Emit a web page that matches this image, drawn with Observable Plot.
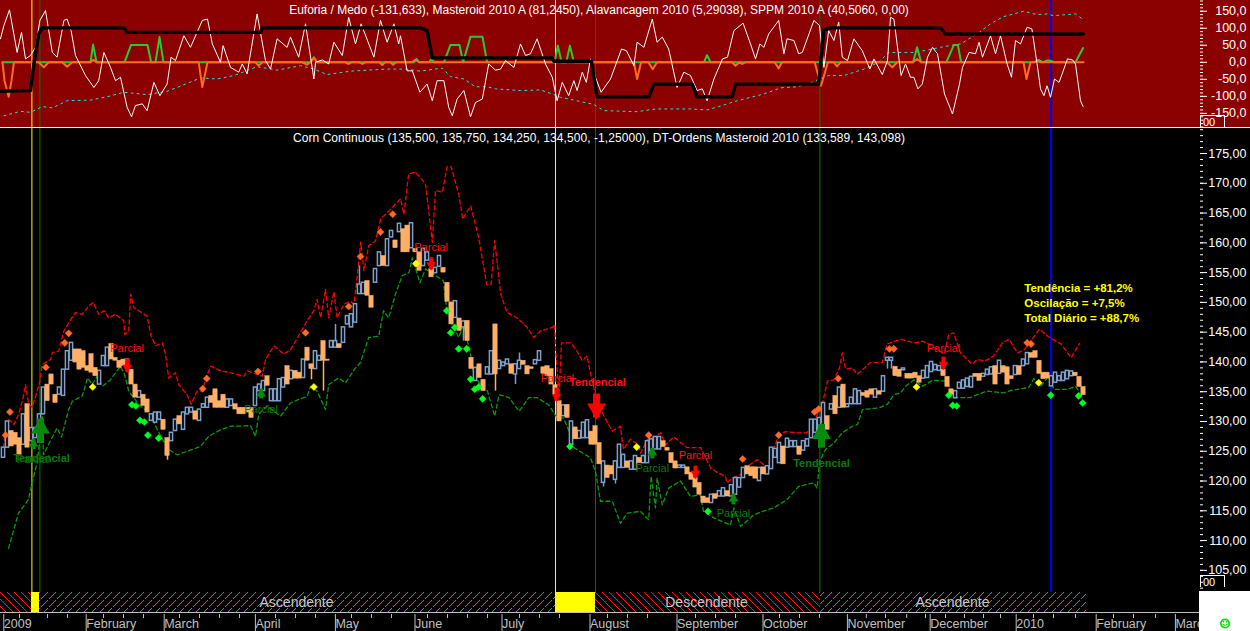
<!DOCTYPE html>
<html><head><meta charset="utf-8">
<script src="https://cdn.jsdelivr.net/npm/d3@7"></script>
<script src="https://cdn.jsdelivr.net/npm/@observablehq/plot@0.6"></script>
<style>
html,body{margin:0;padding:0;background:#000;overflow:hidden}
#chart{position:relative;width:1250px;height:631px;overflow:hidden;background:#000;font-family:"Liberation Sans",Arial,sans-serif}
.pane{position:absolute;left:0;width:1250px}
.pane svg{display:block;overflow:hidden}
.title{position:absolute;left:0;width:1198px;text-align:center;color:#fff;font-size:12px;line-height:14px;white-space:nowrap}
.boxlbl{position:absolute;left:1200px;width:25px;border:1px solid #fff;border-bottom:none;color:#fff;font-size:11px;line-height:12px;padding-left:2px;box-sizing:border-box}
</style></head><body>
<svg width="0" height="0" style="position:absolute"><defs>
<pattern id="hatchUp" patternUnits="userSpaceOnUse" width="8" height="8"><path d="M-1,9 L9,-1" stroke="#00c800" stroke-width="1" shape-rendering="crispEdges" stroke-dasharray="2,1"/></pattern>
<pattern id="hatchDown" patternUnits="userSpaceOnUse" width="7" height="7"><path d="M-1,-1 L8,8" stroke="#ff1010" stroke-width="1.3" shape-rendering="crispEdges"/></pattern>
</defs></svg>
<div id="chart">
 <div class="pane" id="top" style="top:0;height:127px;background:#8b0000"></div>
 <div class="pane" style="top:127px;height:1px;background:#fff"></div>
 <div class="pane" id="main" style="top:128px;height:464px"></div>
 <div class="pane" id="strip" style="top:592px;height:20px"></div>
 <div class="pane" id="axis" style="top:612px;height:19px;border-top:1px solid #c0c0c0;box-sizing:border-box"></div>
 <div class="title" style="top:3px">Euforia / Medo (-131,633), Masteroid 2010 A (81,2450), Alavancagem 2010 (5,29038), SPPM 2010 A (40,5060, 0,00)</div>
 <div class="title" style="top:131px;letter-spacing:0.065px">Corn Continuous (135,500, 135,750, 134,250, 134,500, -1,25000), DT-Ordens Masteroid 2010 (133,589, 143,098)</div>
 <div class="boxlbl" style="top:115px;height:13px">00</div>
 <div class="boxlbl" style="top:575px;height:12px">00</div>
 <div style="position:absolute;left:1199px;top:591px;width:51px;height:40px;background:#fff"></div>
 <svg style="position:absolute;left:1218px;top:617px" width="14" height="14" viewBox="0 0 14 14" role="img"><circle cx="7" cy="6.5" r="4.2" fill="none" stroke="#00e000" stroke-width="1.7"/><path d="M4.6 6.8 Q7 9.6 9.4 6.8" fill="none" stroke="#00e000" stroke-width="1.1"/><rect x="4.8" y="4" width="1.4" height="1.4" fill="#00e000"/><rect x="7.9" y="4" width="1.4" height="1.4" fill="#00e000"/></svg>
</div>
<script>
const barOpen = [
123.9,125.6,128.4,128.1,127.2,126.1,132.9,126.7,127.2,127.5,
131.2,136.2,137.9,134.5,134.5,134.3,138.7,140.2,142.1,142.1,
141.8,139.3,141.3,139,136.2,139.3,139.3,143,140.7,140.2,
140.4,139.6,138.7,136.2,134,134.5,133.7,130.1,129.8,130.3,
130.3,127.2,126.7,128.4,130.9,128.6,131.2,131.5,131.7,130.1,
132.3,132.3,134.3,135.4,133.4,134.5,132.3,132.6,132.9,132.3,
132.3,132.3,132.3,132.6,135.1,135.1,137.6,133.4,133.4,133.4,
135.7,139.3,137.1,138.5,138.2,137.3,142.4,139.6,138.8,140.2,
143.5,140.4,142.4,142.4,143,143.2,146.3,145.8,146.6,151.4,
151.4,153.6,151.1,153.3,156.1,157.8,156.1,160.9,160.4,161.8,
162.3,162.9,159.1,159,158.4,156.1,157,155.6,154.9,156,
155.8,153.3,150,147.4,147.3,145.8,146.9,140.7,136.8,139.6,
137,137.9,137.9,146.3,138.8,139.3,139.6,139.6,137.9,138.8,
140.2,139.3,139.1,139.6,140.2,139.1,139.3,138.8,136.1,133.4,
130.9,132.8,126.1,129,127.1,127.2,127.2,128.3,129.2,126.4,
119.7,122.6,122.5,120.2,122.2,122.2,123.3,121.9,121.9,123.9,
123,123,125,125.3,125.3,126.7,125.6,124.7,123.3,122.2,
122.2,122.3,121.4,120.5,119.7,117.4,117.1,116.3,117.8,117.4,
117.4,118.3,117.4,117.7,118.9,120.5,122.5,122.3,122.3,120,
122.3,121.1,122,123.9,123,125.8,125.6,125.7,125.7,125.8,
125.1,125.8,127.2,128.1,128.1,129,130.9,132,134.3,132.3,
136.2,132.4,132.9,132.9,132.9,134.8,135.1,135.4,134,135.1,
135,140.2,140.2,139.2,138.7,138.6,138,138,138.2,137.6,
137.2,137.3,138.3,138.6,138.5,138.7,137.5,135.4,133.9,135.5,
135.5,135.8,135.7,138,138,137.5,137.8,137.9,139.3,138,
139.3,139.1,137.6,137.8,139.3,139.3,139.6,141.5,141.8,140.2,
138.2,138.2,135.9,136.5,136.8,136.8,137.1,137.6,138.2,137.5,135.8];
const barClose = [
125.6,130,125.8,126.1,124.4,131.2,125.6,128.9,128.9,131.2,
135.7,133.4,136.2,133.1,135.7,138.7,141.8,143.2,139.9,138.7,
139,138.5,138.2,137.6,138.5,141,142.4,140.4,140.2,139,
139.3,140.4,136.2,134,135.1,132.6,131.5,131.2,131.5,131.5,
128.6,124.2,128.1,130.3,129.5,131.5,132.3,132.3,130.3,132,
132.9,134,133.1,132.3,132.3,132.3,133.7,133.7,132,131.2,
131.2,131.5,130.6,135.7,136.2,136.8,136,135.4,135.4,137.1,
137.3,136.2,138.5,137.2,137.2,140.4,140.2,138.8,141.8,141,
140.2,140.2,143.5,143.5,142.3,145.8,147.7,148,149.7,153,
153.3,151.1,149.1,155.6,158.4,156.1,160.6,162,159.1,163.2,
158.4,158.4,163.3,158.4,155.3,159,158.4,154.2,155.8,157.8,
155,150.1,146.3,150.2,145.2,146.8,143.5,138.8,139,137.3,
135.1,139.1,141.8,137.9,140.2,139.9,140.4,138,139.6,140.2,
139.5,137.9,138.8,140.3,141.8,138,137.6,136.2,134.5,130,
132.7,130.6,130,127,128.4,129.8,130.2,126.1,126.1,122.8,
123.3,120.5,121.1,123.3,126.1,124.4,122.2,123.3,124.2,123,
124.2,126.7,127,127.4,127.4,125.7,125.1,123,122.1,122.6,
122.6,121.1,120.2,118.9,117.7,116.3,116.3,117.7,117,118.3,
118.8,117.4,119.3,120.5,120.5,122.2,121.1,120.8,120.4,122.2,
121.1,122.5,125.6,125.4,126.4,122.8,127.1,126.7,126.7,124.4,
126.7,127,130.3,130.3,130.6,133.1,128.6,132.9,131.2,135.7,
132.3,132.9,134,135.4,135.1,134.3,134,134.5,135.4,134.5,
137.6,140.7,140.7,137.6,137.5,138.9,137.2,137.2,137.3,136.5,
138.5,139.3,140,139.5,139.3,137.6,135.8,134.5,135.1,136.5,
136.9,137.2,137.5,137.5,136.8,138,138.7,139.1,136.2,140.2,
138.2,136.2,137.1,139.3,137.8,140.4,141.5,140.7,140.7,138,
137.1,137.2,137.6,138.2,137.6,138.2,138.5,138.4,137.6,135.8,134.4];
const wickBar  = [77,80,83,89,115,123,128,129,221,222,150,153,41,5];
const wickHigh = [139.6,143.5,146.3,156.1,146.8,146.3,139.6,141.5,140.7,140.7,123.3,123.3,127.2,131.2];
const wickLow  = [137,135.1,143.5,151.4,143.5,135.1,136.2,138.8,138.8,138.8,119,119.5,123.5,126.1];

const upperBar = [0,0.5,1.3,2.6,3.8,4.9,5.5,6.3,7.2,8.4,9.1,9.7,11.8,12.2,13.8,15.1,16.3,18,19.7,21.3,22.4,23.8,25.1,26.3,28,30.1,30.3,31.3,31.8,32.6,35.9,36.8,38,39.7,40.5,41.3,43,43.8,45.9,46.9,48.4,49.7,50.5,51.8,54.3,56.8,60.1,60.9,62.2,64.7,65.5,67.6,70.1,71.8,73.8,
75.9,77.6,78.4,79.3,80.5,81.3,82.6,83.4,85.1,86.8,87.6,88.4,89.3,90.1,91.3,93,94.3,96,98,99.3,100.1,101.3,103,105.5,106.3,107.2,108,109.7,110.9,111.9,113.8,114.8,116.8,118.8,120.8,121.9,122.8,124.3,125.9,128.4,130.9,132.6,134.3,137.2,137.8,138,138.9,139.5,141.8,143.4,144.7,145.9,146.8,148,
150.1,152.2,154.2,155,156.7,158.8,159.3,161,163,164.3,165.5,167.6,170.9,174.3,176.8,178.5,180.5,180.8,182.2,184.25,186,188.5,191,192.2,194,195.5,198.3,200.8,201.7,204.7,206,207.6,209,
209.7,210.5,212.2,213.4,216.75,219.7,220.9,224.25,225.9,228,229.7,231.4,235.2,236.3,237.5,239.25,242.2,243.4,245.5,247.5,249.75,251.4,253.5,255.25,259,261.5,264.4,266.9,269];
const upperPrice = [125.6,128.4,130.3,129.5,131.2,134,136.2,132.9,132.4,135.1,136.8,139.6,140.4,141.6,141.8,145.2,146.6,148.3,148,149.4,150,148,148.6,147.4,148,146.9,144.6,145.2,151.4,149.1,147.7,144.6,142.7,143.2,141.3,137.3,138.2,136.2,134.5,132.9,135.1,135.1,137.1,139.3,138.5,138.2,137.6,138.5,138.2,137.6,140.4,142.7,141.3,142.1,144.4,
146.9,148.6,150.5,147.4,152.2,147.4,151.8,147.4,149.7,150.2,149.7,154.2,160.1,155.3,159.5,160.3,164,165.1,166.5,167.4,164.8,171.6,171.9,169.9,165.4,160.1,168.8,168.5,172.8,172.8,168.2,164,166.2,160.9,153,153,160.4,151.4,148.3,147.4,145.8,144.1,145.2,145.8,146.3,142.4,134.5,143.2,143.2,141.8,140.2,141,137.9,134.5,
130.9,128.4,129.2,125.3,127,126.1,124.7,127,127.5,128.1,126.1,127.4,125.6,125.6,122.2,121.4,120.8,119.7,120.5,121.1,122.5,123.6,122.2,125,127.8,128.3,128.1,128.1,128.7,132.9,136.8,137,139,
141.5,138.8,139,137.9,139.9,139.9,143,143.8,143.5,143.2,143.5,143,141.3,144.6,144.9,141.5,139.6,140.4,140.2,141,143.2,143.8,141.5,142.1,145.5,144.1,143,140.7,143.1];

const lowerBar = [1.25,3.75,6.25,7.25,8.5,9.25,9.6,10,11,13.4,14.5,16.3,17.2,19.7,21,22.2,23.4,24.7,26.75,29.25,30.25,31.3,33.8,36.75,38.4,40,41.3,43.4,45.9,49.25,51.3,54.25,56.75,61.75,63,63.8,65.9,69.25,71.75,73.8,
75.9,76.75,78.4,80.5,81.3,83.8,85.5,88,89.25,91.3,93.8,95,96.3,98,99.7,101.4,102.2,104.1,105.5,107.2,110,110.5,111.75,113.8,115,116.75,117.6,119.7,121,122.8,123.9,126.4,128.9,131.3,133.4,136.3,138.4,140,
141.75,142.6,146.75,148,149.25,150.5,152.2,154.25,155.9,159.25,161.3,161.9,163,163.4,164.7,166.3,169.25,171.75,174.25,175,177.6,181.75,182.6,184.25,187.6,189.75,192.6,195.9,198.8,202.6,203.4,204,205.5,
207.6,209.7,212.2,213.5,214.75,219,221,222.6,224.25,225.5,227.6,229.7,232.25,235.5,238.4,241.75,243.4,245.9,250,251.75,256.3,257.6,259.25,261.3,262.6,266,268,268.9];
const lowerPrice = [108.7,114.6,116.9,120,123.3,128.4,135.1,124.4,125.8,128.9,127.4,132,133.4,134.3,137.3,136.2,137.6,135.9,137,139.3,137.9,135.1,132.9,131.2,128.7,126.7,125.3,124.4,125,125.8,127.5,128.6,129.2,129.3,127.5,131.2,132.6,130.9,133.1,133.7,
134.2,135.9,135.1,132,136.2,137.3,136.5,139,139.9,144.1,144.3,148.6,147.4,151.4,154.5,155,157.5,153.3,155.6,154.9,153.6,150.2,146.9,144.1,146.3,141.3,137.9,135.7,135.1,130.9,134.5,134,131.7,134,134,132.8,130.6,130.6,
127.8,125.6,123.9,121.6,116.6,116.6,116.6,112.9,114.6,114.9,113.5,120.8,115.5,120.5,116,118.8,120,117.4,117.7,114.9,113.8,112.6,115.5,112.4,114.3,114.9,115.5,116.9,119.1,119.7,118.8,123.3,125.3,
126.4,128.1,129.2,129.5,132,132.3,132.9,134.5,134.8,135.9,137,135.9,136.9,136.8,134,134,134.5,135.1,134.8,135.2,135.7,137.2,135.9,137.6,135.4,135.4,135.9,135.1];

const orangeDiamondBar = [1.6,0.5,10.6,15.3,16.3,49.8,50.8,63.6,75.5,86.3,89.25,94.25,97.3,161.3,184.8,193.8,202.8,203.8,208.7,221.5,222.6,255.9,256.9];
const orangeDiamondPrice = [131.6,127.7,139.1,143.2,144.8,135.5,137.2,138.4,144.9,149.3,157.7,161.8,164.8,127.7,123.7,127.7,131.6,132.1,137.2,142.2,142.2,143.2,143];
const yellowDiamondBar = [22.3,77.6,103.1,158.3,228.25,258.8];
const yellowDiamondPrice = [135.8,135.8,156.5,125.7,135.8,136.5];
const greenDiamondBar = [32.1,33.1,34.1,35.2,36.1,38.8,110.8,112.8,111.8,113.8,115.8,116.8,117.8,118.8,119.8,141.6,176.1,236.3,237.3,238.3,261.8,268.8,269.8];
const greenDiamondPrice = [132.8,132.6,130.2,129.9,127.7,127.2,148.6,145.8,144.9,142.2,142.2,137.1,135.4,135.8,133.8,125.8,114.9,134.4,132.7,132.6,134.4,134.3,133.1];

const arrowBar   = [9.25,204.5,148.25, 7.5,64.4,162.2,182.5, 30.9,106.9,138.25,173,235];
const arrowTip   = [130.4,129.5,130.6, 127,135.4,125.5,117.8, 138.3,155.5,133.4,120.5,138.8];
const arrowBase  = [126.3,125.5,134.6, 125.3,133.8,123.7,116, 140.5,157.5,135.6,122.5,140.8];
const arrowDown  = [false,false,true, false,false,false,false, true,true,true,true,true];
const arrowBig   = [true,true,true, false,false,false,false, false,false,false,false,false];

const labelText  = ["Tendencial","Tendencial","Tendencial","Parcial","Parcial","Parcial","Parcial","Parcial","Parcial","Parcial","Parcial","Parcial"];
const labelBar   = [9.5,204.5,148.5,7.5,64.4,162.2,182.5,30.9,106.9,138.5,173,235];
const labelPrice = [123.8,123,136.5,123.7,132.1,122.1,114.6,142.3,159.3,137.3,124.3,142.3];
const labelUp    = [true,true,false,true,true,true,true,false,false,false,false,false];

const noteText = ["Tendência = +81,2%","Oscilação = +7,5%","Total Diário = +88,7%"];
const notePrice = [152.4,149.9,147.4];
const noteBar = 255.2;

const markerBar = [7.1,9.1,138,148,204.1,261.9];
const markerColor = ["#ffff00","#008000","#ffff00","#e00000","#008000","#0000ff"];
const markerWidth = [1,1,1,1,1,2];

const euforiaBar = [-0.75,0.1,1.5,3.4,4.5,5.5,6.75,8,9.1,10.5,12.2,13.4,15.1,15.9,16.9,18,20.5,22.6,23.8,25.1,26.75,28,29.25,30.9,32,33,34.7,35.9,37.6,39.1,40.9,41.9,43,45.1,46.75,49.7,51,52.2,54.25,54.9,56.75,58.8,59.7,60.9,63.4,65.5,66.75,68.4,70.9,71.75,73.8,75.5,77.6,78,79.7,81.3,82.6,84.7,86.3,88,89.4,92.6,94.25,95.9,97.6,98.8,99.25,100.9,102.2,104.1,
105.9,107.2,108.4,110.1,111.3,112.2,113.4,115.1,116.75,118,119.7,121.3,123,124.25,125.5,127.6,129.25,130.5,131.75,133.4,135.5,137.2,138.4,139.7,141.3,142.6,143.4,144.7,145.7,146.75,148,149.4,151.75,154.5,155.75,157.6,158.4,160.1,162.2,163.4,164.7,166.3,168.4,170.1,171.75,173.4,174.7,175.9,177.6,179.75,181,182.6,184.9,186.75,188,189.1,190.1,191.3,193.8,195.1,195.9,197.6,198.8,199.7,202.6,204,205.1,206.3,207.6,208.8,
209.7,211,212.6,214.7,216.6,217.6,219.7,221,221.75,222.6,223.4,224.4,225.5,226.75,227.6,228.6,229.7,231,232.25,233.5,235.25,237.25,239,239.75,241.4,243,243.9,244.75,246,246.75,248,249.25,250.9,252,253,254.25,255.9,257.1,258.4,259.25,260.1,260.9,261.75,262.75,263.9,266,267.25,268,269.25,269.9];
const euforiaValue = [69,108,154,29,88,10,20,44,123,152,29,15,123,127,93,20,-39,-74,-54,29,-15,-54,-44,-132,-160,-127,-122,-142,-59,-98,-64,15,5,78,44,123,127,54,0,49,-15,-29,-5,-34,142,5,-20,69,44,74,15,113,-49,0,7,-5,59,20,132,54,113,15,123,59,113,54,78,-25,-25,-88,
-64,-113,-54,-54,-132,-157,-108,-83,-160,-118,-108,-5,-23,-20,5,-15,54,20,25,69,-5,-44,-113,-59,-98,-54,-83,-29,-59,10,-44,-88,-49,39,34,-10,59,44,127,59,74,39,-74,-29,-39,-83,-78,-113,-49,10,15,93,115,54,10,54,44,83,123,25,69,64,25,29,123,108,-15,93,64,118,
15,5,69,34,-20,10,-36,5,132,127,54,-39,-5,-44,-44,-78,-64,15,44,25,-93,-152,-64,-15,29,25,59,15,54,78,25,78,-5,-44,64,54,103,98,-5,-78,-98,-69,-103,-49,-59,10,7,-5,-113,-130];

const sppmBar = [0.1,4.25,6.75,9.7,12.2,15.9,21.75,26,30.1,35.9,40.9,43.4,49.25,53.4,57.6,63.4,68.4,74.25,77.6,80.9,86.75,90.9,95.9,100.9,104.1,109.7,111.75,115.1,118,121,123,129.25,134.25,137.2,139.25,143.4,147.6,150.1,158.4,163,171.6,175.9,178.8,183.4,190.1,194.25,198.4,202.1,204,206.3,210.1,215.1,218.75,221.3,227.6,231,234.25,239.25,243.4,246.75,250,255,258.4,260.9,262.5,268,269.75];
const sppmValue = [-157,-144,-147,-130,-134,-113,-111,-101,-88,-95,-85,-74,-46,-49,-39,-13,-23,-10,-20,-36,-26,-23,-20,-20,-26,-17,-42,-49,-72,-72,-78,-83,-81,-93,-103,-113,-124,-142,-145,-137,-137,-140,-130,-113,-93,-75,-72,-59,-49,-39,-39,-20,0,29,29,36,44,54,83,113,134,150,140,142,137,142,127];

const masteroidBar = [-0.75,6.75,7.6,8.8,9.7,30.1,30.9,64.25,64.7,104.25,105.9,107.2,137.2,137.6,147,148.4,161.4,162.6,172.2,173.4,182.2,183,203.8,205.1,206.75,234.25,235.5,270];
const masteroidValue = [-85,-83,-5,83,101,101,88,88,101,101,93,13,13,3,3,-101,-101,-64,-64,-101,-101,-64,-64,95,101,101,83,83];

const alavUpBar = [-0.25,21.75,22.4,23.25,30.25,31.9,36,36.9,38,39,40,76.75,77.6,78.4,102.6,103.25,103.9,106.4,107,107.75,110.1,111.75,114,114.9,116.75,119.75,120.9,137.75,138.6,139.5,140.7,141.6,142.6,175.1,175.9,176.75,227.4,228.4,229.4,235.7,237.6,238.6,239.4,257.75,258.8,259.9,260.75,261.75,262.75,268,268.9,269.9];
const alavUpValue = [0,0,52,0,0,51,51,0,0,74,0,0,15,0,0,10,0,0,10,0,0,51,51,0,75,75,0,0,49,0,0,49,0,0,21,0,0,44,0,0,51,51,0,0,7,0,5,5,0,0,20,42];
const alavDownBar = [-0.25,0.25,1.3,2,2.6,8.8,10.1,11.3,14.7,15.9,17.2,21.75,22.4,23.25,48.8,49.7,51,63,63.8,64.7,74.7,75.9,76.75,77.6,78.4,85.5,86.3,87,89,89.7,90.4,94,94.7,95.4,96.7,97.4,98.1,102,103,104,157.6,158.4,159.4,161.2,162.3,163.4,182.2,183,184,184.7,185.4,192.8,193.8,194.6,202.8,204.4,206.1,207.6,208.4,209.25,220.9,222.2,223.4,227.4,228.4,229.4,255,255.75,256.75,257.6,258.4,259.2,270];
const alavDownValue = [0,-54,-101,-54,0,0,-15,0,0,-13,0,0,7,0,0,-73,0,0,-10,0,0,-7,0,13,0,0,-5,0,0,-5,0,0,-8,0,0,-7,0,0,7,0,0,-49,0,0,-20,0,0,-10,0,-5,0,0,-18,0,0,-69,0,0,-12,0,0,-15,0,0,10,0,0,-49,0,0,5,0,0];

const mainTicks = [105,110,115,120,125,130,135,140,145,150,155,160,165,170,175];
const topTicks = [-150,-100,-50,0,50,100,150];
const monthBars = [-0.3,20.3,39.8,62.6,82.6,102.5,124.25,146.25,168,189.5,210.6,231.3,252.8,272.8,292.6];
const monthNames = ["2009","February","March","April","May","June","July","August","September","October","November","December","2010","February","March"];
const weekBars = [4,11,16,25,30,35,44,49,54,59,68,73,78,87,92,97,106,111,116,121,129,134,139,151,156,161,173,178,183,194,199,204,215.7,220.5,225.8,230.5,235.5,240.25,245,249.25,257.5,262.5,268,277.5,282.5,288];
const segFrom = [-0.75,7,9,138,148,204.25];
const segTo = [7,9,138,148,204.25,270.75];
const segFill = ["url(#hatchDown)","#ffff00","url(#hatchUp)","#ffff00","url(#hatchDown)","url(#hatchUp)"];
const trendText = ["Ascendente","Descendente","Ascendente"];
const trendBar = [73.25,175.75,237.25];

const xDomain = [-0.75,299];
const plotStyle = {background:"transparent",color:"#fff",fontFamily:"'Liberation Sans',Arial,sans-serif",fontSize:"12px",overflow:"hidden"};
const pairs = (xs,ys)=>xs.map((x,i)=>({x,y:ys[i]}));
const comma = (n)=>(d)=>d3.format("."+n+"f")(d).replace(".",",").replace("\u2212","-");
const markers = markerBar.map((x,i)=>({x,c:markerColor[i],w:markerWidth[i]}));
const markerMarks = ()=>markers.map(m=>Plot.ruleX([m.x],{stroke:m.c,strokeWidth:m.w}));

/* ---- top oscillator pane ---- */
document.getElementById("top").append(Plot.plot({
  width:1250,height:127,marginTop:0,marginBottom:0,marginLeft:0,marginRight:51,style:plotStyle,
  x:{domain:xDomain,axis:null,label:null},y:{domain:[-191.5,181.5],axis:null,label:null},
  marks:[
    ...markerMarks(),
    Plot.line(pairs(sppmBar,sppmValue),{x:"x",y:"y",stroke:"#19e6e6",strokeWidth:1,strokeDasharray:"2,4"}),
    Plot.line(pairs(alavUpBar,alavUpValue),{x:"x",y:"y",stroke:"#2ec82e",strokeWidth:2}),
    Plot.line(pairs(alavDownBar,alavDownValue),{x:"x",y:"y",stroke:"#ff6a20",strokeWidth:2}),
    Plot.line(pairs(euforiaBar,euforiaValue),{x:"x",y:"y",stroke:"#fff",strokeWidth:1}),
    Plot.line(pairs(masteroidBar,masteroidValue),{x:"x",y:"y",stroke:"#000",strokeWidth:3.4}),
    Plot.axisY({anchor:"right",label:null,ticks:d3.range(-190,181,10),tickSize:3,tickFormat:()=>""}),
    Plot.axisY({anchor:"right",label:null,ticks:topTicks,tickSize:7,tickPadding:40,textAnchor:"end",tickFormat:comma(1),fontSize:12.5})
  ]}));

/* ---- main price pane ---- */
const bars = barOpen.map((o,i)=>({i,o,c:barClose[i]}));
const ups = bars.filter(d=>d.c>=d.o), downs = bars.filter(d=>d.c<d.o);
const wicks = wickBar.map((i,k)=>({i,h:wickHigh[k],l:wickLow[k],up:barClose[i]>=barOpen[i]}));
const arrows = arrowBar.map((x,i)=>({x,tip:arrowTip[i],base:arrowBase[i],down:arrowDown[i],big:arrowBig[i]}));
const arrowColor = d=>d.down?"#ff0000":"#0a8a0a";
const labels = labelText.map((t,i)=>({t,x:labelBar[i],y:labelPrice[i],up:labelUp[i],bold:t==="Tendencial"}));
const diamond = (xs,ys,fill)=>Plot.dot(pairs(xs,ys),{x:"x",y:"y",symbol:"diamond2",r:3.2,fill,stroke:fill,strokeWidth:0.5});
const arrowHead = (rows,r,dy,rotate)=>Plot.dot(rows,{x:"x",y:"tip",symbol:"triangle",r,dy,rotate,fill:arrowColor});

document.getElementById("main").append(Plot.plot({
  width:1250,height:464,marginTop:0,marginBottom:0,marginLeft:0,marginRight:51,style:plotStyle,
  x:{domain:xDomain,axis:null,label:null},y:{domain:[101.28,179.2],axis:null,label:null},
  marks:[
    ...markerMarks(),
    Plot.line(pairs(upperBar,upperPrice),{x:"x",y:"y",stroke:"#ff0000",strokeWidth:1.3,strokeDasharray:"4,3"}),
    Plot.line(pairs(lowerBar,lowerPrice),{x:"x",y:"y",stroke:"#0a9a0a",strokeWidth:1.3,strokeDasharray:"4,3"}),
    Plot.ruleX(wicks,{x:"i",y1:"l",y2:"h",stroke:d=>d.up?"#7f9fc8":"#ffb066",strokeWidth:1.5}),
    Plot.rect(ups,{x1:d=>d.i-0.4,x2:d=>d.i+0.4,y1:"o",y2:"c",fill:"#000",stroke:"#7f9fc8",strokeWidth:1.5}),
    Plot.rect(downs,{x1:d=>d.i-0.54,x2:d=>d.i+0.54,y1:"o",y2:"c",fill:"#ffb066",stroke:"#ffb066",strokeWidth:0.5}),
    diamond(orangeDiamondBar,orangeDiamondPrice,"#ff6a28"),
    diamond(yellowDiamondBar,yellowDiamondPrice,"#ffff00"),
    diamond(greenDiamondBar,greenDiamondPrice,"#00ff20"),
    Plot.ruleX(arrows,{x:"x",y1:"base",y2:"tip",stroke:arrowColor,strokeWidth:d=>d.big?7:4}),
    arrowHead(arrows.filter(d=>d.big&&!d.down),7,9,0),
    arrowHead(arrows.filter(d=>d.big&&d.down),7,-9,180),
    arrowHead(arrows.filter(d=>!d.big&&!d.down),3.6,4.5,0),
    arrowHead(arrows.filter(d=>!d.big&&d.down),3.6,-4.5,180),
    Plot.text(labels.filter(d=>!d.bold),{x:"x",y:"y",text:"t",fill:d=>d.up?"#0a7a0a":"#ff1010",fontSize:11}),
    Plot.text(labels.filter(d=>d.bold),{x:"x",y:"y",text:"t",fill:d=>d.up?"#0a7a0a":"#ff1010",fontSize:11,fontWeight:"bold"}),
    Plot.text(noteText,{x:()=>noteBar,y:(d,i)=>notePrice[i],text:d=>d,fill:"#ffff00",fontSize:11.5,fontWeight:"bold",textAnchor:"start"}),
    Plot.axisY({anchor:"right",label:null,ticks:d3.range(102,180,1),tickSize:3,tickFormat:()=>""}),
    Plot.axisY({anchor:"right",label:null,ticks:mainTicks,tickSize:7,tickPadding:40,textAnchor:"end",tickFormat:comma(2),fontSize:12.5})
  ]}));

/* ---- trend strip ---- */
const segs = segFrom.map((a,i)=>({a,b:segTo[i],f:segFill[i]}));
document.getElementById("strip").append(Plot.plot({
  width:1250,height:20,marginTop:0,marginBottom:0,marginLeft:0,marginRight:51,style:plotStyle,
  x:{domain:xDomain,axis:null,label:null},y:{domain:[0,1],axis:null,label:null},
  marks:[
    ...segs.map(s=>Plot.rect([s],{x1:"a",x2:"b",y1:()=>0,y2:()=>1,fill:s.f})),
    Plot.text(trendText,{x:(d,i)=>trendBar[i],y:()=>0.5,text:d=>d,fill:"#c8c8c8",fontSize:14})
  ]}));

/* ---- time axis ---- */
const monthLabel = new Map(monthBars.map((b,i)=>[b,monthNames[i]]));
const axisPlot = Plot.plot({
  width:1250,height:19,marginTop:0,marginBottom:18,marginLeft:0,marginRight:51,
  style:{...plotStyle,color:"#c0c0c0"},
  x:{domain:xDomain,label:null},
  marks:[
    Plot.axisX({anchor:"bottom",label:null,ticks:weekBars,tickSize:4,tickFormat:()=>""}),
    Plot.axisX({anchor:"bottom",label:null,ticks:monthBars,tickSize:19,tickPadding:-14,textAnchor:"start",dx:1.5,
      tickFormat:d=>monthLabel.get(d),fontSize:12.5})
  ]});
document.getElementById("axis").append(axisPlot);
</script>
</body></html>
